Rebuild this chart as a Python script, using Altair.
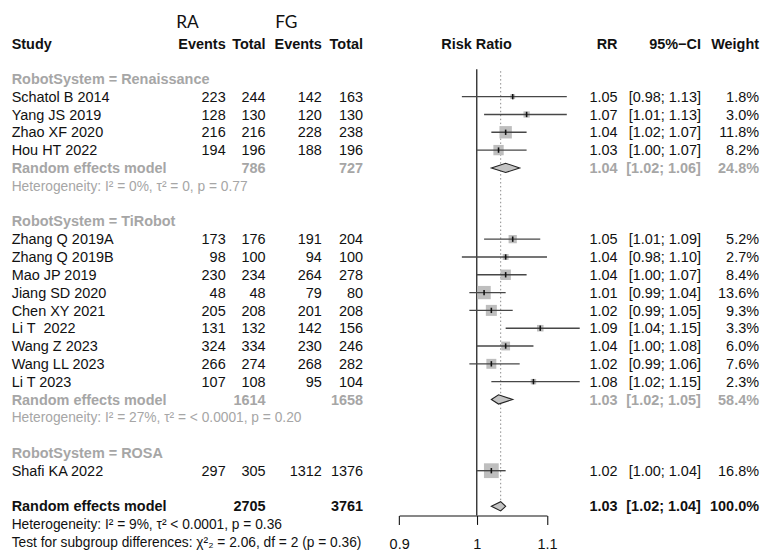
import altair as alt
import pandas as pd

# ---------------- data ----------------
groups = ["Renaissance", "TiRobot", "ROSA"]
studies = ["Schatol B 2014", "Yang JS 2019", "Zhao XF 2020", "Hou HT 2022",
           "Zhang Q 2019A", "Zhang Q 2019B", "Mao JP 2019", "Jiang SD 2020",
           "Chen XY 2021", "Li T\u00a0 2022", "Wang Z 2023", "Wang LL 2023", "Li T 2023",
           "Shafi KA 2022"]
study_group = ["Renaissance"] * 4 + ["TiRobot"] * 9 + ["ROSA"]
ra_events = [223, 128, 216, 194, 173, 98, 230, 48, 205, 131, 324, 266, 107, 297]
ra_total = [244, 130, 216, 196, 176, 100, 234, 48, 208, 132, 334, 274, 108, 305]
fg_events = [142, 120, 228, 188, 191, 94, 264, 79, 201, 142, 230, 268, 95, 1312]
fg_total = [163, 130, 238, 196, 204, 100, 278, 80, 208, 156, 246, 282, 104, 1376]
rr = [1.05, 1.07, 1.04, 1.03, 1.05, 1.04, 1.04, 1.01, 1.02, 1.09, 1.04, 1.02, 1.08, 1.02]
rr_lo = [0.98, 1.01, 1.02, 1.00, 1.01, 0.98, 1.00, 0.99, 0.99, 1.04, 1.00, 0.99, 1.02, 1.00]
rr_hi = [1.13, 1.13, 1.07, 1.07, 1.09, 1.10, 1.07, 1.04, 1.05, 1.15, 1.08, 1.06, 1.15, 1.04]
weight = [1.8, 3.0, 11.8, 8.2, 5.2, 2.7, 8.4, 13.6, 9.3, 3.3, 6.0, 7.6, 2.3, 16.8]

sub_groups = ["Renaissance", "TiRobot"]
sub_ra_total = [786, 1614]
sub_fg_total = [727, 1658]
sub_rr = [1.04, 1.03]
sub_lo = [1.02, 1.02]
sub_hi = [1.06, 1.05]
sub_weight = [24.8, 58.4]
sub_het = ["Heterogeneity: I\u00b2 = 0%, \u03c4\u00b2 = 0, p = 0.77",
           "Heterogeneity: I\u00b2 = 27%, \u03c4\u00b2 = < 0.0001, p = 0.20"]

overall_ra_total = 2705
overall_fg_total = 3761
overall_rr = 1.03
overall_lo = 1.02
overall_hi = 1.04
overall_weight = 100.0
overall_line = 1.033
overall_het = "Heterogeneity: I\u00b2 = 9%, \u03c4\u00b2 < 0.0001, p = 0.36"
subgroup_test = "Test for subgroup differences: \u03c7\u00b2\u2082 = 2.06, df = 2 (p = 0.36)"

axis_ticks = [0.9, 1, 1.1]
null_value = 1

# ---------------- layout (rows) ----------------
W, H = 761, 510
ROW0, ROWH = 68.7, 18.0          # pixel centre of row 0 and row spacing
y_top = -ROW0 / ROWH
y_bot = (H - ROW0) / ROWH

study_rows, group_head_rows, sub_rem_rows, sub_het_rows = [], [], [], []
r = 0
for g in groups:
    group_head_rows.append(r)
    r += 1
    for i, sg in enumerate(study_group):
        if sg == g:
            study_rows.append(r)
            r += 1
    if g in sub_groups:
        sub_rem_rows.append(r)
        sub_het_rows.append(r + 1)
        r += 3
    else:
        r += 1
overall_row = r
overall_het_row = r + 1
test_row = r + 2
header_row = -1.95
ra_fg_row = -3.2


def ci_txt(lo, hi):
    return f"[{lo:.2f}; {hi:.2f}]"


studies_df = pd.DataFrame({
    "row": study_rows, "study": studies,
    "ra_e": [str(v) for v in ra_events], "ra_t": [str(v) for v in ra_total],
    "fg_e": [str(v) for v in fg_events], "fg_t": [str(v) for v in fg_total],
    "rr": rr, "lo": rr_lo, "hi": rr_hi, "weight": weight,
    "rr_txt": [f"{v:.2f}" for v in rr],
    "ci_txt": [ci_txt(a, b) for a, b in zip(rr_lo, rr_hi)],
    "w_txt": [f"{v:.1f}%" for v in weight],
})
studies_df["t_top"] = studies_df["row"] - 0.15
studies_df["t_bot"] = studies_df["row"] + 0.15

head_df = pd.DataFrame({"row": group_head_rows,
                        "label": [f"RobotSystem = {g}" for g in groups]})
sub_df = pd.DataFrame({
    "row": sub_rem_rows, "label": ["Random effects model"] * len(sub_rem_rows),
    "ra_t": [str(v) for v in sub_ra_total], "fg_t": [str(v) for v in sub_fg_total],
    "rr_txt": [f"{v:.2f}" for v in sub_rr],
    "ci_txt": [ci_txt(a, b) for a, b in zip(sub_lo, sub_hi)],
    "w_txt": [f"{v:.1f}%" for v in sub_weight],
})
het_df = pd.DataFrame({"row": sub_het_rows, "label": sub_het})
overall_df = pd.DataFrame({
    "row": [overall_row], "label": ["Random effects model"],
    "ra_t": [str(overall_ra_total)], "fg_t": [str(overall_fg_total)],
    "rr_txt": [f"{overall_rr:.2f}"], "ci_txt": [ci_txt(overall_lo, overall_hi)],
    "w_txt": [f"{overall_weight:.1f}%"],
})
foot_df = pd.DataFrame({"row": [overall_het_row, test_row], "label": [overall_het, subgroup_test]})

# diamonds (subgroups + overall)
DH = 0.26
d_rows = sub_rem_rows + [overall_row]
d_est = sub_rr + [overall_line]
d_lo = sub_lo + [overall_lo]
d_hi = sub_hi + [overall_hi]
drec = []
for k, (rw, e, lo, hi) in enumerate(zip(d_rows, d_est, d_lo, d_hi)):
    drec.append({"g": k, "x": lo, "y1": rw, "y2": rw})
    drec.append({"g": k, "x": e, "y1": rw - DH, "y2": rw + DH})
    drec.append({"g": k, "x": hi, "y1": rw, "y2": rw})
diamond_df = pd.DataFrame(drec)

ref_df = pd.DataFrame({"x": [null_value], "y1": [-0.54], "y2": [y_bot]})
dot_df = pd.DataFrame({"x": [overall_line], "y1": [-0.43], "y2": [overall_row - 0.3]})

# ---------------- scales ----------------
FONT = "Liberation Sans"
XS = alt.Scale(type="log", domain=[0.9, 1.1], range=[395.3, 544.7], nice=False)
YS = alt.Scale(domain=[y_top, y_bot], reverse=True, nice=False, zero=False)
AX = alt.Axis(values=axis_ticks, format="~g", grid=False, tickSize=9, tickColor="#111",
              domainColor="#111", domainWidth=1.1, tickWidth=1.1, labelFont=FONT,
              labelFontSize=14.6, labelColor="#111", labelPadding=12.5, title=None,
              labelFlush=False, labelOverlap=False)


def X(f):
    return alt.X(f"{f}:Q", scale=XS, axis=AX)


def Y(f="row"):
    return alt.Y(f"{f}:Q", scale=YS, axis=None)


def txt(df, field, x, align="right", bold=False, color="#111", size=14.6, dy=5.2, font=FONT):
    return alt.Chart(df).mark_text(
        align=align, baseline="alphabetic", dy=dy, font=font, fontSize=size,
        fontWeight="bold" if bold else "normal", color=color
    ).encode(x=alt.value(x), y=Y(), text=f"{field}:N")


def const_txt(label, row, x, align="right", bold=True, color="#111", size=14.6, dy=5.2, font=FONT):
    return txt(pd.DataFrame({"row": [row], "label": [label]}), "label", x, align, bold, color, size, dy, font)


GRAY = "#A6A6A6"
C_STUDY, C_RAE, C_RAT, C_FGE, C_FGT = 3.7, 220.0, 260.3, 317.2, 358.8
C_RR, C_CI, C_W = 616.0, 700.3, 759.0
HET_SIZE = 13.9

layers = []
# headers
layers += [
    const_txt("RA", ra_fg_row, 170.0, "left", False, "#111", 17.5, 6.2, "Lato"),
    const_txt("FG", ra_fg_row, 270.0, "left", False, "#111", 17.5, 6.2, "Lato"),
    const_txt("Study", header_row, C_STUDY, "left"),
    const_txt("Events", header_row, C_RAE),
    const_txt("Total", header_row, C_RAT),
    const_txt("Events", header_row, C_FGE),
    const_txt("Total", header_row, C_FGT),
    const_txt("Risk Ratio", header_row, 473.5, "center"),
    const_txt("RR", header_row, C_RR),
    const_txt("95%\u2212CI", header_row, C_CI),
    const_txt("Weight", header_row, C_W),
]
# group headings
layers.append(txt(head_df, "label", C_STUDY, "left", True, GRAY))
# studies
layers += [
    txt(studies_df, "study", C_STUDY, "left"),
    txt(studies_df, "ra_e", C_RAE), txt(studies_df, "ra_t", C_RAT),
    txt(studies_df, "fg_e", C_FGE), txt(studies_df, "fg_t", C_FGT),
    txt(studies_df, "rr_txt", C_RR), txt(studies_df, "ci_txt", C_CI), txt(studies_df, "w_txt", C_W),
]
# subgroup and overall random effects rows
for df, col, bold in [(sub_df, GRAY, True), (overall_df, "#111", True)]:
    layers += [
        txt(df, "label", C_STUDY, "left", bold, col),
        txt(df, "ra_t", C_RAT, "right", bold, col), txt(df, "fg_t", C_FGT, "right", bold, col),
        txt(df, "rr_txt", C_RR, "right", bold, col), txt(df, "ci_txt", C_CI, "right", bold, col),
        txt(df, "w_txt", C_W, "right", bold, col),
    ]
layers.append(txt(het_df, "label", C_STUDY, "left", False, GRAY, HET_SIZE, 4.9))
layers.append(txt(foot_df, "label", C_STUDY, "left", False, "#111", HET_SIZE, 4.9))

# forest plot marks
ref_line = alt.Chart(ref_df).mark_rule(color="#222", strokeWidth=1.3).encode(
    x=X("x"), y=Y("y1"), y2="y2")
dot_line = alt.Chart(dot_df).mark_rule(color="#8a8a8a", strokeWidth=1, strokeDash=[1.5, 2.5]).encode(
    x=X("x"), y=Y("y1"), y2="y2")
squares = alt.Chart(studies_df).mark_square(color="#BEBEBE", opacity=1, filled=True).encode(
    x=X("rr"), y=Y(), size=alt.Size("weight:Q", scale=alt.Scale(domain=[0, 20], range=[0, 266]), legend=None))
ci_lines = alt.Chart(studies_df).mark_rule(color="#474747", strokeWidth=1.4).encode(
    x=X("lo"), x2="hi", y=Y())
est_ticks = alt.Chart(studies_df).mark_rule(color="#111", strokeWidth=1.6).encode(
    x=X("rr"), y=Y("t_top"), y2="t_bot")
diamonds = alt.Chart(diamond_df).mark_area(fill="#C4C4C4", stroke="#222", strokeWidth=1.1,
                                           opacity=1, fillOpacity=1).encode(
    x=X("x"), y=Y("y1"), y2="y2", detail="g:N")

chart = alt.layer(ref_line, dot_line, squares, ci_lines, est_ticks, diamonds, *layers).properties(
    width=W, height=H,
    autosize=alt.AutoSizeParams(type="none"),
    padding={"left": 0, "top": 0, "right": 0, "bottom": 37},
    background="white",
).configure_view(stroke=None)

chart.save("out.html", embed_options={"renderer": "svg", "actions": False})
